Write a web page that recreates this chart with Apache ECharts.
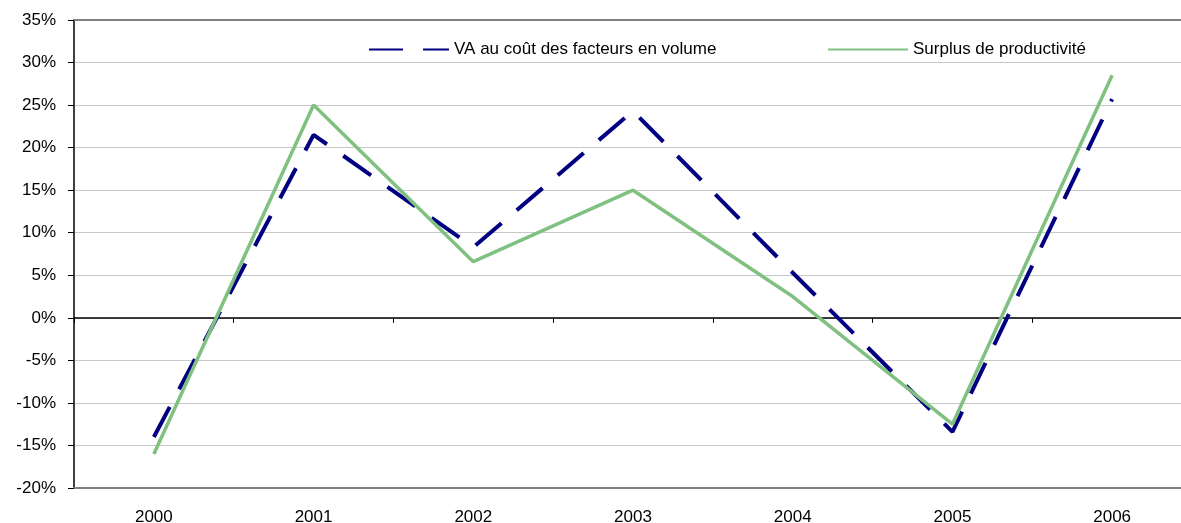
<!DOCTYPE html>
<html>
<head>
<meta charset="utf-8">
<script src="https://cdn.jsdelivr.net/npm/echarts@6/dist/echarts.min.js"></script>
<style>html,body{margin:0;padding:0;background:#fff;overflow:hidden}#c{width:1181px;height:523px}</style>
</head>
<body>
<div id="c"></div>
<script>
var categories = ['2000','2001','2002','2003','2004','2005','2006'];
var vaVolume = [-14.0, 21.5, 8.3, 24.3, 5.3, -13.4, 25.7];
var surplus = [-16.0, 25.0, 6.6, 15.0, 2.5, -12.5, 28.5];
var seriesNames = ['VA au coût des facteurs en volume', 'Surplus de productivité'];

var font = '"Liberation Sans", Arial, sans-serif';
var chart = echarts.init(document.getElementById('c'), null, {renderer: 'canvas'});
chart.setOption({
  animation: false,
  backgroundColor: '#ffffff',
  grid: {left: 74, width: 1118, top: 20, height: 468, containLabel: false, outerBoundsMode: 'none'},
  legend: [
    {data: [seriesNames[0]], left: 363, top: 36, itemWidth: 80, itemHeight: 12, itemGap: 4,
     itemStyle: {opacity: 0},
     textStyle: {fontFamily: font, fontSize: 17, color: '#000'}},
    {data: [seriesNames[1]], left: 822, top: 36, itemWidth: 80, itemHeight: 12, itemGap: 4,
     itemStyle: {opacity: 0},
     textStyle: {fontFamily: font, fontSize: 17, color: '#000'}}
  ],
  xAxis: [
    {type: 'category', data: categories, position: 'bottom', boundaryGap: true,
     axisLine: {onZero: false, lineStyle: {color: '#808080', width: 2}},
     axisTick: {show: false},
     axisLabel: {fontFamily: font, fontSize: 17, color: '#000', margin: 21},
     splitLine: {show: false}},
    {type: 'category', data: categories, position: 'bottom', boundaryGap: true,
     axisLine: {onZero: true, lineStyle: {color: '#000', width: 1.5}},
     axisTick: {show: true, inside: false, length: 5, lineStyle: {color: '#000'}},
     axisLabel: {show: false}, splitLine: {show: false}},
    {type: 'category', data: categories, position: 'top', boundaryGap: true,
     axisLine: {onZero: false, lineStyle: {color: '#808080', width: 2}},
     axisTick: {show: false}, axisLabel: {show: false}, splitLine: {show: false}}
  ],
  yAxis: {
    type: 'value', min: -20, max: 35, interval: 5,
    axisLine: {show: true, lineStyle: {color: '#000', width: 1.5}},
    axisTick: {show: true, length: 6, lineStyle: {color: '#000'}},
    axisLabel: {fontFamily: font, fontSize: 17, color: '#000', margin: 18,
      formatter: function (v) { return v + '%'; }},
    splitLine: {show: true, lineStyle: {color: '#c8c8c8', width: 1}}
  },
  series: [
    {name: seriesNames[0], type: 'line', data: vaVolume, xAxisIndex: 0, symbol: 'none',
     itemStyle: {color: '#000080'},
     lineStyle: {color: '#000080', width: 4, type: [34, 20], cap: 'butt'}, z: 3},
    {name: seriesNames[1], type: 'line', data: surplus, xAxisIndex: 0, symbol: 'none',
     itemStyle: {color: '#80c080'},
     lineStyle: {color: '#80c080', width: 3.5}, z: 4}
  ]
});
</script>
</body>
</html>
